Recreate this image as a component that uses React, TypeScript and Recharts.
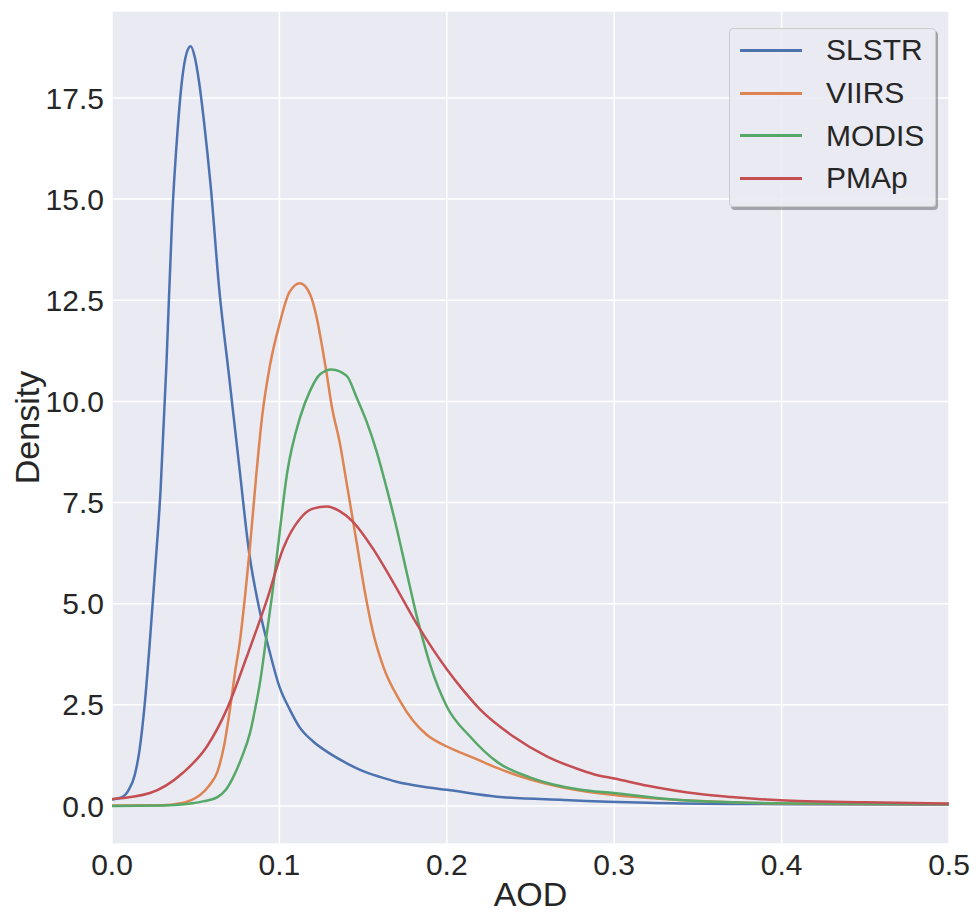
import React from "react";
import { CartesianGrid, Line, LineChart, XAxis, YAxis } from "recharts";

// AOD density curves (KDE)
const slstrAod = [0, 0.006, 0.01, 0.0135, 0.0165, 0.0195, 0.0225, 0.0255, 0.029, 0.0325, 0.036, 0.039, 0.042, 0.0445, 0.047, 0.0495, 0.052, 0.055, 0.059, 0.064, 0.07, 0.076, 0.082, 0.088, 0.094, 0.1, 0.106, 0.112, 0.12, 0.13, 0.14, 0.15, 0.16, 0.17, 0.185, 0.2, 0.23, 0.27, 0.32, 0.37, 0.42, 0.5];
const slstrDensity = [0.16, 0.22, 0.4, 0.75, 1.4, 2.5, 4.0, 5.7, 7.8, 10.9, 14.6, 16.6, 18.0, 18.6, 18.78, 18.5, 17.9, 16.9, 15.3, 12.8, 10.6, 8.4, 6.24, 4.87, 3.84, 2.95, 2.4, 1.95, 1.6, 1.3, 1.06, 0.86, 0.72, 0.6, 0.48, 0.4, 0.23, 0.15, 0.08, 0.05, 0.04, 0.03];

const viirsAod = [0, 0.03, 0.04, 0.047, 0.0526, 0.058, 0.063, 0.067, 0.0705, 0.0735, 0.0765, 0.0795, 0.0824, 0.086, 0.0896, 0.0944, 0.1, 0.106, 0.1123, 0.1183, 0.1223, 0.1253, 0.1283, 0.1312, 0.1362, 0.1405, 0.1462, 0.1508, 0.1559, 0.162, 0.172, 0.18, 0.188, 0.2, 0.216, 0.23, 0.25, 0.27, 0.3, 0.33, 0.37, 0.42, 0.5];
const viirsDensity = [0.01, 0.02, 0.06, 0.14, 0.27, 0.5, 0.85, 1.5, 2.4, 3.3, 4.1, 5.2, 6.4, 8.1, 9.6, 10.9, 11.9, 12.7, 12.92, 12.65, 12.07, 11.41, 10.67, 9.9, 8.95, 7.9, 6.5, 5.35, 4.3, 3.45, 2.6, 2.1, 1.76, 1.47, 1.19, 0.94, 0.65, 0.45, 0.27, 0.17, 0.09, 0.05, 0.04];

const modisAod = [0, 0.03, 0.0448, 0.055, 0.063, 0.068, 0.0725, 0.0775, 0.0824, 0.0855, 0.0884, 0.0926, 0.0956, 0.0992, 0.1045, 0.1123, 0.1183, 0.1243, 0.1312, 0.1402, 0.1462, 0.1521, 0.1581, 0.1641, 0.1701, 0.176, 0.182, 0.1858, 0.19, 0.2, 0.214, 0.23, 0.25, 0.28, 0.3, 0.33, 0.37, 0.42, 0.5];
const modisDensity = [0, 0.01, 0.05, 0.12, 0.22, 0.4, 0.72, 1.2, 1.8, 2.4, 3.05, 4.3, 5.2, 6.43, 8.2, 9.6, 10.26, 10.67, 10.79, 10.63, 10.09, 9.5, 8.76, 7.85, 6.86, 5.78, 4.7, 4.1, 3.5, 2.46, 1.71, 1.09, 0.7, 0.4, 0.32, 0.18, 0.09, 0.06, 0.05];

const pmapAod = [0, 0.0227, 0.0424, 0.0567, 0.0687, 0.0806, 0.0926, 0.1022, 0.1123, 0.12, 0.1284, 0.1362, 0.1438, 0.1559, 0.1678, 0.1828, 0.2, 0.21, 0.22, 0.24, 0.26, 0.28, 0.29, 0.3, 0.32, 0.35, 0.37, 0.41, 0.45, 0.5];
const pmapDensity = [0.17, 0.32, 0.82, 1.47, 2.4, 3.7, 5.1, 6.36, 7.1, 7.35, 7.4, 7.28, 7.03, 6.36, 5.54, 4.45, 3.38, 2.85, 2.38, 1.71, 1.22, 0.89, 0.76, 0.68, 0.5, 0.3, 0.22, 0.12, 0.09, 0.06];

const seriesNames = ["SLSTR", "VIIRS", "MODIS", "PMAp"];
const seriesColors = ["#4C72B0", "#DD8452", "#55A868", "#C44E52"];

const xTicks = [0, 0.1, 0.2, 0.3, 0.4, 0.5];
const yTicks = [0, 2.5, 5, 7.5, 10, 12.5, 15, 17.5];

const toRows = (aod: number[], density: number[]) =>
  aod.map((v, i) => ({ aod: v, density: density[i] }));

const series = [
  toRows(slstrAod, slstrDensity),
  toRows(viirsAod, viirsDensity),
  toRows(modisAod, modisDensity),
  toRows(pmapAod, pmapDensity),
];

const FONT = "'Liberation Sans', Arial, sans-serif";
const TEXT = "#262626";

export default function App() {
  return (
    <div
      style={{
        position: "absolute",
        left: 0,
        top: 0,
        width: 976,
        height: 913,
        background: "#fff",
        fontFamily: FONT,
      }}
    >
      <LineChart
        width={976}
        height={913}
        margin={{ top: 11, right: 27, bottom: 0, left: 0 }}
      >
        <CartesianGrid fill="#EAEAF2" stroke="#ffffff" strokeWidth={1.5} />
        <XAxis
          dataKey="aod"
          type="number"
          height={69}
          domain={[0, 0.5]}
          ticks={xTicks}
          allowDataOverflow
          axisLine={false}
          tickLine={false}
          tickSize={0}
          tickMargin={10}
          tickFormatter={(v: number) => v.toFixed(1)}
          tick={{ fontSize: 30, fill: TEXT, fontFamily: FONT }}
          label={{
            value: "AOD",
            position: "insideBottom",
            offset: 7,
            fontSize: 34,
            fill: TEXT,
            fontFamily: FONT,
          }}
        />
        <YAxis
          type="number"
          width={112}
          domain={[-0.94, 19.65]}
          ticks={yTicks}
          allowDataOverflow
          axisLine={false}
          tickLine={false}
          tickSize={0}
          tickMargin={8}
          tickFormatter={(v: number) => v.toFixed(1)}
          tick={{ fontSize: 30, fill: TEXT, fontFamily: FONT }}
          label={{
            value: "Density",
            angle: -90,
            position: "insideLeft",
            offset: 27,
            fontSize: 34,
            fill: TEXT,
            fontFamily: FONT,
            style: { textAnchor: "middle" },
          }}
        />
        {series.map((rows, i) => (
          <Line
            key={seriesNames[i]}
            data={rows}
            dataKey="density"
            name={seriesNames[i]}
            type="monotone"
            stroke={seriesColors[i]}
            strokeWidth={2.5}
            dot={false}
            isAnimationActive={false}
          />
        ))}
      </LineChart>

      <div
        style={{
          position: "absolute",
          left: 729,
          top: 28,
          width: 207,
          height: 179,
          boxSizing: "border-box",
          background: "rgba(234,234,242,0.9)",
          border: "1px solid #cccccc",
          borderRadius: 4,
          boxShadow: "2px 3px 0 rgba(0,0,0,0.3)",
        }}
      >
        {seriesNames.map((name, i) => (
          <div
            key={name}
            style={{
              display: "flex",
              alignItems: "center",
              height: 42.7,
            }}
          >
            <div
              style={{
                marginLeft: 10,
                width: 62,
                height: 0,
                borderTop: `3px solid ${seriesColors[i]}`,
              }}
            />
            <span
              style={{
                marginLeft: 24,
                fontSize: 30,
                color: TEXT,
                lineHeight: 1,
              }}
            >
              {name}
            </span>
          </div>
        ))}
      </div>
    </div>
  );
}
